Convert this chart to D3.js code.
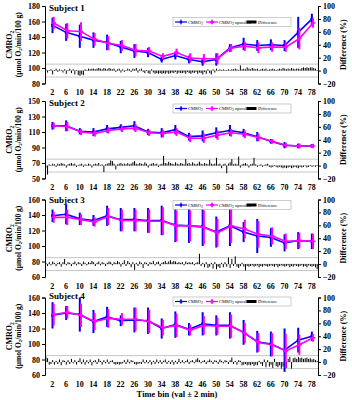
<!DOCTYPE html>
<html><head><meta charset="utf-8">
<script src="https://cdn.jsdelivr.net/npm/d3@7"></script>
<style>
html,body{margin:0;padding:0;background:#fff;}
svg{display:block;}
text{font-family:"Liberation Serif","Times New Roman",serif;font-weight:bold;fill:#000;}
</style></head><body>
<script>
// ---------- DATA ----------
const timeBins = [2,6,10,14,18,22,26,30,34,38,42,46,50,54,58,62,66,70,74,78];
const xTickLabels = timeBins;
const rightTicks = [-20,0,20,40,60,80,100];
const subjects = ["Subject 1","Subject 2","Subject 3","Subject 4"];
const legendLabels = ["CMRO", "CMRO", "Difference"];

// Subject 1
const s1Cmro2    = [155,146,141,136,133,127,122,120,111,116,111,108,111,126,131,129,130,129,146,163];
const s1Cmro2Err = [10,11,15,10,10,8,9,6,4,5,5,5,8,5,8,7,7,7,20,7];
const s1Up       = [158,148,147,137,132,129,123,122,115,120,113,112,112,126,128,126,127,127,138,158];
const s1UpErr    = [8,10,12,8,9,7,8,5,4,5,6,6,7,5,6,7,6,6,14,6];
const s1Diff = [
 2,-3,1,2,-6,1,3,-2,2,1,-3,2,-5,1,3,-4,2,-6,1,-7,
 -8,-6,-7,2,1,3,2,3,3,2,3,4,3,2,4,3,2,4,3,2,
 3,-2,2,3,-3,2,-2,1,3,2,-2,3,2,4,-3,2,3,-2,-4,1,
 -4,-5,2,-3,-5,-4,-5,-4,-5,-4,-5,-3,-5,-4,-3,-4,-2,-5,-3,-4,
 -4,-3,-5,-2,-4,-5,-3,-4,-2,-5,-3,-4,-6,-2,-5,2,-4,-6,2,-3,
 3,1,2,1,2,1,1,2,1,2,2,3,2,1,8,2,3,2,5,3,
 2,4,3,2,3,1,2,3,2,3,1,2,2,3,2,1,2,3,2,4,
 3,2,3,2,4,3,2,3,3,2,4,5,4,5,4,5,5,4,3,1];
const s1LeftTicks = [80,100,120,140,160,180];

// Subject 2
const s2Cmro2    = [118,118,111,110,114,116,118,110,109,113,104,105,109,112,109,104,98,93,92,92];
const s2Cmro2Err = [5,7,4,5,5,4,6,4,6,6,5,7,7,7,5,6,3,4,3,2];
const s2Up       = [118,117,110,108,112,114,115,109,108,110,102,102,106,109,107,103,98,93,92,92];
const s2UpErr    = [4,6,4,4,4,4,5,4,5,5,5,6,6,5,5,5,3,3,3,2];
const s2Diff = [
 -3,-14,2,1,3,2,-2,3,2,4,3,2,-3,2,3,4,2,3,-2,1,
 2,3,-2,2,1,3,2,-3,2,3,2,4,1,2,-10,2,3,4,8,7,
 3,-6,2,3,4,2,3,2,4,2,3,5,7,3,2,4,3,2,5,3,
 -3,2,3,4,2,3,-2,2,3,15,4,3,6,4,3,2,5,3,2,4,
 3,2,10,3,4,2,5,3,2,3,6,3,2,4,3,2,9,3,2,3,
 12,2,3,-4,2,3,-12,3,5,10,2,3,2,14,-3,2,3,4,2,-3,
 2,3,12,2,-2,1,2,-2,1,2,3,-2,-3,-2,1,-2,-3,-2,-3,-4,
 -3,-4,-3,-2,-4,-3,-2,-3,-4,-2,-3,-2,-1,-3,-2,1,-2,-1,-2,1];
const s2LeftTicks = [50,70,90,110,130,150];

// Subject 3
const s3Cmro2    = [139,141,135,133,139,134,134,133,133,127,126,125,118,126,118,113,111,104,107,106];
const s3Cmro2Err = [8,13,8,7,13,15,15,16,19,22,22,25,20,26,13,22,12,11,11,10];
const s3Up       = [137,137,134,131,138,133,133,132,132,126,126,124,117,126,122,115,113,106,107,106];
const s3UpErr    = [7,10,7,6,11,14,14,15,18,20,20,22,18,22,12,17,11,10,10,10];
const s3Diff = [
 2,-3,3,-2,4,2,-3,2,3,-4,3,8,-2,3,2,-3,2,4,-2,3,
 2,-3,4,2,-2,3,2,5,3,-3,2,4,-2,3,2,-3,2,4,3,-2,
 3,2,5,3,-4,2,6,-3,5,2,-5,3,-9,2,-3,4,2,-6,3,2,
 -3,3,2,5,-2,3,4,-3,2,3,5,2,4,6,3,5,4,2,3,2,
 3,-2,4,2,3,2,3,-2,2,3,16,-3,2,-5,3,-6,-4,2,-7,3,
 -8,-4,-6,2,-5,3,-4,10,-6,8,-3,12,-4,-6,-3,2,-4,-10,-3,-4,
 -3,-2,-4,-3,-2,-5,-3,-4,-2,-3,-4,-3,-2,-3,-4,-2,-5,-3,-2,-3,
 -4,-3,-2,-5,-3,-4,-2,-3,-4,-3,-2,-4,-3,-5,-2,-3,-4,-3,-5,-8];
const s3LeftTicks = [60,80,100,120,140,160];

// Subject 4
const s4Cmro2    = [137,140,138,129,135,130,131,130,120,125,119,126,124,124,115,103,100,92,105,110];
const s4Cmro2Err = [17,9,22,15,13,7,16,17,13,17,8,15,13,17,16,14,16,28,16,6];
const s4Up       = [138,141,137,129,133,132,132,129,121,124,118,124,123,123,114,102,99,91,99,108];
const s4UpErr    = [14,8,15,11,12,8,15,15,10,15,7,12,11,15,13,12,15,22,13,5];
const s4Diff = [
 8,6,-4,-3,3,-4,2,-3,4,-5,3,2,-4,3,-3,5,-2,3,-4,2,
 6,-3,4,-4,3,-2,4,-5,2,3,-3,5,2,-4,3,-2,4,-3,2,3,
 -3,-4,-3,-4,-3,-2,3,-3,4,-2,3,2,-3,-4,-3,-2,-3,4,-2,3,
 -2,3,-4,2,-3,4,-2,3,-3,2,4,-3,2,-3,3,-4,2,-3,5,-2,
 3,-2,2,4,-3,2,3,-2,4,6,3,-2,2,3,-3,2,4,2,-3,3,
 2,-3,4,2,-2,3,2,-3,3,7,-3,2,-4,3,2,-5,-4,-3,-5,-4,
 -5,-3,-6,-4,-5,2,-3,-6,4,-8,3,-7,-4,-9,5,-6,-8,-5,-10,-7,
 -6,-9,5,8,-10,6,7,5,8,6,7,5,6,7,5,6,4,5,3,2];
const s4LeftTicks = [60,80,100,120,140,160];

// ---------- LAYOUT ----------
const W = 352, H = 400;
const panels = [
  {name: subjects[0], c: s1Cmro2, ce: s1Cmro2Err, u: s1Up, ue: s1UpErr, d: s1Diff, lt: s1LeftTicks, top: 6,     legY: 22,    subY: 10.5},
  {name: subjects[1], c: s2Cmro2, ce: s2Cmro2Err, u: s2Up, ue: s2UpErr, d: s2Diff, lt: s2LeftTicks, top: 101,   legY: 108.5, subY: 106},
  {name: subjects[2], c: s3Cmro2, ce: s3Cmro2Err, u: s3Up, ue: s3UpErr, d: s3Diff, lt: s3LeftTicks, top: 199.5, legY: 205,   subY: 203},
  {name: subjects[3], c: s4Cmro2, ce: s4Cmro2Err, u: s4Up, ue: s4UpErr, d: s4Diff, lt: s4LeftTicks, top: 297.5, legY: 301.5, subY: 298.5}
];
const PH = 77.5;
const X0 = 45, X1 = 318;
const BLUE = "#0000ff", MAG = "#ff00ff";

const svg = d3.select("body").append("svg").attr("width", W).attr("height", H);
const x = d3.scaleLinear().domain([0, 80]).range([X0, X1]);

panels.forEach((p, pi) => {
  const g = svg.append("g");
  const yL = d3.scaleLinear().domain([p.lt[0], p.lt[p.lt.length-1]]).range([p.top + PH, p.top]);
  const yR = d3.scaleLinear().domain([-20, 100]).range([p.top + PH, p.top]);

  // gray reference lines at +/-10 %
  [10, -10].forEach(v => {
    g.append("line").attr("x1", X0).attr("x2", X1).attr("y1", yR(v)).attr("y2", yR(v))
      .attr("stroke", "#b8b8b8").attr("stroke-width", 0.8);
  });
  g.append("line").attr("x1", X0).attr("x2", X1).attr("y1", yR(0)).attr("y2", yR(0))
    .attr("stroke", "#cfcfcf").attr("stroke-width", 0.6);

  // difference bars
  g.append("g").selectAll("rect").data(p.d).join("rect")
    .attr("x", (d, i) => x((i + 0.5) * 0.5) - 0.5)
    .attr("width", 1)
    .attr("y", d => Math.min(yR(0), yR(d)))
    .attr("height", d => Math.abs(yR(d) - yR(0)))
    .attr("fill", "#000");

  // series
  const series = [
    {v: p.c, e: p.ce, col: BLUE, off: 0.2, sym: d3.symbolSquare, size: 8},
    {v: p.u, e: p.ue, col: MAG, off: 0.55, sym: d3.symbolCross, size: 12}
  ];
  series.forEach(s => {
    const sg = g.append("g");
    sg.selectAll("line.err").data(timeBins).join("line").attr("class", "err")
      .attr("x1", (t) => x(t + s.off)).attr("x2", (t) => x(t + s.off))
      .attr("y1", (t, i) => yL(s.v[i] - s.e[i])).attr("y2", (t, i) => yL(s.v[i] + s.e[i]))
      .attr("stroke", s.col).attr("stroke-width", 2);
    sg.append("path").datum(timeBins)
      .attr("d", d3.line().x(t => x(t + s.off)).y((t, i) => yL(s.v[i])))
      .attr("fill", "none").attr("stroke", s.col).attr("stroke-width", 1.6);
    sg.selectAll("path.mk").data(timeBins).join("path").attr("class", "mk")
      .attr("d", d3.symbol().type(s.sym).size(s.size))
      .attr("transform", (t, i) => `translate(${x(t + s.off)},${yL(s.v[i])})`)
      .attr("fill", s.col);
  });

  // axes
  const axL = g.append("g").attr("transform", `translate(${X0},0)`)
    .call(d3.axisLeft(yL).tickValues(p.lt).tickSize(3).tickPadding(2).tickFormat(d3.format("d")));
  const axR = g.append("g").attr("transform", `translate(${X1},0)`)
    .call(d3.axisRight(yR).tickValues(rightTicks).tickSize(3).tickPadding(2).tickFormat(d3.format("d")));
  const axB = g.append("g").attr("transform", `translate(0,${p.top + PH})`)
    .call(d3.axisBottom(x).tickValues(xTickLabels).tickSize(0).tickPadding(6).tickFormat(d3.format("d")));
  axB.select(".domain").remove();
  [axL, axR, axB].forEach(a => {
    a.selectAll("text").style("font-family", '"Liberation Serif",serif').style("font-weight", "bold")
      .style("font-size", "8px").attr("fill", "#000");
    a.selectAll("line").attr("stroke", "#000");
    a.select(".domain").attr("stroke", "#000");
  });

  // subject label
  g.append("text").attr("x", 49).attr("y", p.subY).style("font-size", "9px").text(p.name);

  // y titles
  const cy = p.top + PH / 2;
  const t1 = g.append("text").attr("transform", `translate(12,${cy}) rotate(-90)`)
    .attr("text-anchor", "middle").style("font-size", "8px");
  t1.append("tspan").text("CMRO");
  t1.append("tspan").attr("dy", 1.5).style("font-size", "5.5px").text("2");
  const t2 = g.append("text").attr("transform", `translate(20.5,${cy}) rotate(-90)`)
    .attr("text-anchor", "middle").style("font-size", "7.5px");
  t2.append("tspan").text("(μmol O");
  t2.append("tspan").attr("dy", 1.5).style("font-size", "5px").text("2");
  t2.append("tspan").attr("dy", -1.5).text("/min/100 g)");
  g.append("text").attr("transform", `translate(346,${cy}) rotate(-90)`)
    .attr("text-anchor", "middle").style("font-size", "8px").text("Difference (%)");

  // legend
  const ly = p.legY;
  const lg = g.append("g");
  lg.append("rect").attr("x", 173).attr("y", ly - 4.5).attr("width", 118).attr("height", 9)
    .attr("fill", "#fff").attr("stroke", "#999").attr("stroke-width", 0.5);
  lg.append("line").attr("x1", 175).attr("x2", 187).attr("y1", ly).attr("y2", ly).attr("stroke", BLUE).attr("stroke-width", 1.2);
  lg.append("path").attr("d", d3.symbol().type(d3.symbolSquare).size(6)).attr("transform", `translate(181,${ly})`).attr("fill", BLUE);
  lg.append("line").attr("x1", 181).attr("x2", 181).attr("y1", ly - 2.5).attr("y2", ly + 2.5).attr("stroke", BLUE).attr("stroke-width", 1);
  const lt1 = lg.append("text").attr("x", 188).attr("y", ly + 1.5).style("font-size", "4.5px").style("font-weight", "normal");
  lt1.append("tspan").text(legendLabels[0]);
  lt1.append("tspan").attr("dy", 1).style("font-size", "3.2px").text("2");
  lg.append("line").attr("x1", 206).attr("x2", 218).attr("y1", ly).attr("y2", ly).attr("stroke", MAG).attr("stroke-width", 1.2);
  lg.append("path").attr("d", d3.symbol().type(d3.symbolCross).size(10)).attr("transform", `translate(212,${ly})`).attr("fill", MAG);
  lg.append("line").attr("x1", 212).attr("x2", 212).attr("y1", ly - 2.5).attr("y2", ly + 2.5).attr("stroke", MAG).attr("stroke-width", 1);
  const lt2 = lg.append("text").attr("x", 219).attr("y", ly + 1.5).style("font-size", "4.5px").style("font-weight", "normal");
  lt2.append("tspan").text(legendLabels[1]);
  lt2.append("tspan").attr("dy", 1).style("font-size", "3.2px").text("2");
  lt2.append("tspan").attr("dy", -1).text(" upscaled");
  lg.append("rect").attr("x", 246.5).attr("y", ly - 1.5).attr("width", 10).attr("height", 3).attr("fill", "#000");
  lg.append("text").attr("x", 258).attr("y", ly + 1.5).style("font-size", "4.5px").style("font-weight", "normal").text(legendLabels[2]);
});

svg.append("text").attr("x", 177).attr("y", 397).attr("text-anchor", "middle")
  .style("font-size", "8.5px").text("Time bin (val ± 2 min)");
</script>
</body></html>
